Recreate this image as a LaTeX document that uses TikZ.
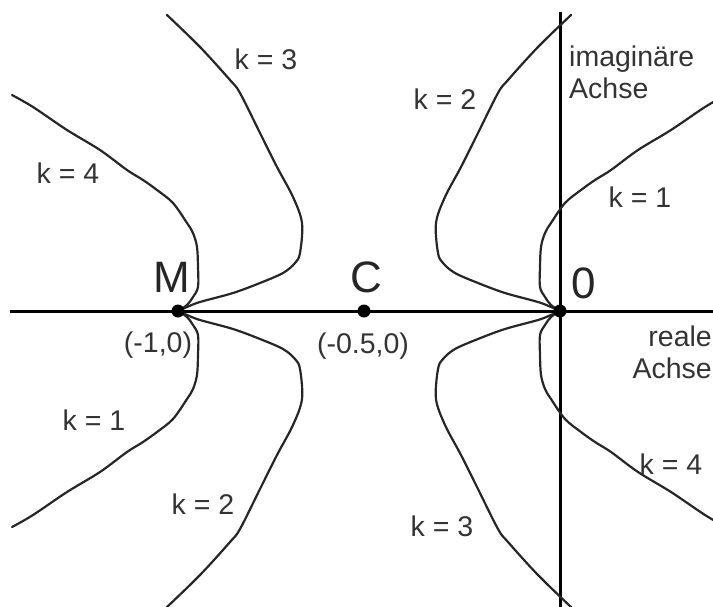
\documentclass[tikz,border=0pt]{standalone}
\usepackage{fontspec}
\setmainfont{Liberation Sans}
\begin{document}
\begin{tikzpicture}[x=1pt,y=-1pt,
  axis/.style={line width=3pt},
  curve/.style={line width=2.2pt, line join=round, line cap=round, color=black!85},
  dot/.style={circle, fill=black, inner sep=0pt, minimum size=13pt},
  klabel/.style={font=\fontsize{28.5}{32}\selectfont, inner sep=0pt, text=black!80},
  big/.style={font=\fontsize{44}{48}\selectfont, inner sep=0pt, text=black!85},
  small/.style={font=\fontsize{28.5}{32}\selectfont, inner sep=0pt, text=black!80}]
\useasboundingbox (0,0) rectangle (713,606);
\newcommand\curveWide{\draw[curve] plot[smooth, tension=0.55] coordinates {(-11,-296) (22,-264) (52,-231) (62,-218) (82,-178) (99,-144) (115,-114) (124,-88) (122,-58) (117,-48) (105,-38) (82,-28) (55,-18) (22,-9) (9,-4) (0,0)};}
\newcommand\curveNarrow{\draw[curve] plot[smooth, tension=0.55] coordinates {(-166,-216) (-145,-204) (-111,-181) (-78,-161) (-51,-141) (-35,-131) (-21,-121) (-5,-108) (9,-88) (15,-78) (19,-64) (20,-44) (20,-24) (15,-14) (9,-6) (0,0)};}
% axes
\coordinate (xl) at (10,311);
\coordinate (xr) at (716,311);
\coordinate (yt) at (560,12);
\coordinate (yb) at (560,610);
\draw[axis] (xl) -- (xr);
\draw[axis] (yt) -- (yb);
% curves
\begin{scope}[shift={(178,311)}]
  \curveWide \curveNarrow
\end{scope}
\begin{scope}[shift={(178,311)}, yscale=-1]
  \curveWide \curveNarrow
\end{scope}
\begin{scope}[shift={(560,311)}, xscale=-1]
  \curveWide \curveNarrow
\end{scope}
\begin{scope}[shift={(560,311)}, xscale=-1, yscale=-1]
  \curveWide \curveNarrow
\end{scope}
% points
\node[dot] (M) at (178,311) {};
\node[dot] (C) at (364,311) {};
\node[dot] (O) at (560,311) {};
% point labels
\node[big] (lM) at (172,277) {M};
\node[big] (lC) at (366,277) {C};
\node[big] (lO) at (584,283) {0};
\node[small] (cM) at (158,345) {(-1,0)};
\node[small] (cC) at (363,346) {(-0.5,0)};
% axis labels
\node[small, anchor=west, align=left] (im) at (569,72) {imaginäre\\Achse};
\node[small, anchor=east, align=right] (re) at (712,352) {reale\\Achse};
% k labels
\node[klabel] (k3a) at (266,59) {k = 3};
\node[klabel] (k4a) at (68,173) {k = 4};
\node[klabel] (k2a) at (445,99) {k = 2};
\node[klabel] (k1a) at (640,197) {k = 1};
\node[klabel] (k1b) at (94,420) {k = 1};
\node[klabel] (k2b) at (203,504) {k = 2};
\node[klabel] (k3b) at (442,526) {k = 3};
\node[klabel] (k4b) at (671,464) {k = 4};
\end{tikzpicture}
\end{document}
